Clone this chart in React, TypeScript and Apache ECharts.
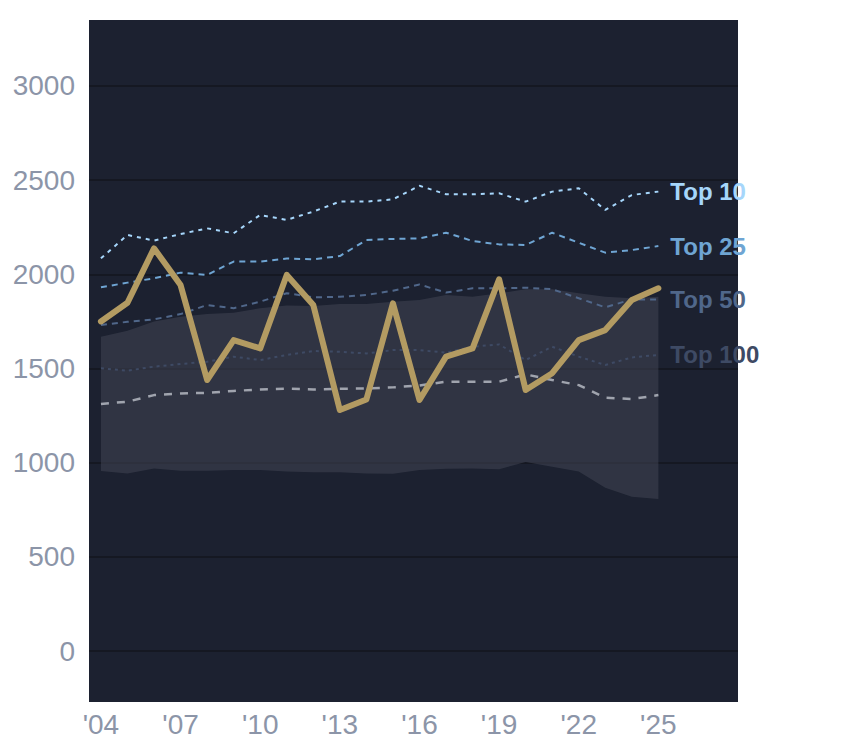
import React, { useEffect, useRef } from 'react';
import * as echarts from 'echarts';

const years = [2004, 2005, 2006, 2007, 2008, 2009, 2010, 2011, 2012, 2013, 2014, 2015, 2016, 2017, 2018, 2019, 2020, 2021, 2022, 2023, 2024, 2025];
const xTicks = [2004, 2007, 2010, 2013, 2016, 2019, 2022, 2025];
const yTicks = [0, 500, 1000, 1500, 2000, 2500, 3000];

const mainValues = [1750, 1849, 2138, 1943, 1439, 1651, 1607, 1997, 1837, 1280, 1336, 1846, 1333, 1563, 1607, 1974, 1386, 1475, 1651, 1704, 1864, 1926];
const top10 = [2085, 2209, 2179, 2214, 2244, 2218, 2315, 2289, 2333, 2386, 2386, 2398, 2470, 2425, 2425, 2430, 2386, 2439, 2457, 2342, 2421, 2439];
const top25 = [1931, 1956, 1979, 2009, 1997, 2068, 2068, 2084, 2080, 2097, 2182, 2188, 2191, 2221, 2177, 2159, 2156, 2221, 2168, 2115, 2129, 2150];
const top50 = [1731, 1748, 1761, 1789, 1837, 1820, 1855, 1900, 1878, 1881, 1890, 1913, 1946, 1903, 1926, 1926, 1929, 1921, 1873, 1825, 1867, 1867];
const top100 = [1501, 1489, 1510, 1524, 1536, 1563, 1545, 1572, 1593, 1589, 1580, 1598, 1598, 1584, 1616, 1628, 1545, 1616, 1563, 1519, 1559, 1572];
const median = [1312, 1324, 1359, 1368, 1371, 1381, 1389, 1393, 1389, 1393, 1394, 1400, 1410, 1430, 1430, 1430, 1469, 1439, 1412, 1345, 1338, 1359];
const bandLow = [956, 943, 970, 957, 957, 961, 961, 954, 950, 949, 943, 942, 961, 968, 970, 966, 1004, 979, 954, 867, 819, 807];
const bandHigh = [1669, 1701, 1749, 1775, 1789, 1796, 1820, 1834, 1832, 1842, 1842, 1855, 1864, 1890, 1881, 1899, 1921, 1921, 1899, 1881, 1873, 1881];

const tierNames = ['Top 100', 'Top 50', 'Top 25', 'Top 10'];
const tierValues = [top100, top50, top25, top10];
const tierColors = ['#3e4a64', '#50678a', '#6fa5d3', '#a6d6fb'];
const tierDash = [[3, 4], [6, 5], [6, 5], [4, 5]];

const FONT = '"Liberation Sans", Arial, sans-serif';

function pairs(vals: number[]) {
  return years.map((y, i) => [y, vals[i]]);
}

export default function App() {
  const chartRef = useRef<HTMLDivElement | null>(null);

  useEffect(() => {
    if (!chartRef.current) return;
    const inst = echarts.init(chartRef.current, undefined, { renderer: 'svg' });

    const tierSeries = tierNames.map((name, k) => ({
      name,
      type: 'line',
      data: pairs(tierValues[k]),
      showSymbol: false,
      symbol: 'none',
      lineStyle: { width: 2, color: tierColors[k], type: tierDash[k] },
      endLabel: {
        show: true,
        formatter: name,
        color: tierColors[k],
        fontFamily: FONT,
        fontWeight: 'bold',
        fontSize: 24,
        distance: 12,
      },
      z: 3,
    }));

    // band between low and high, drawn once as a polygon
    const bandData = years.map((y, i) => [y, bandLow[i], bandHigh[i]]);

    inst.setOption({
      animation: false,
      grid: {
        left: 89,
        right: 106,
        top: 20,
        bottom: 46,
        show: true,
        backgroundColor: '#1c2130',
        borderWidth: 0,
      },
      xAxis: {
        type: 'value',
        min: 2003.55,
        max: 2028,
        axisLine: { show: false },
        axisTick: { show: false, customValues: xTicks },
        splitLine: { show: false },
        axisLabel: {
          customValues: xTicks,
          formatter: (v: number) => `'${String(v).slice(2)}`,
          color: '#8c95a8',
          fontFamily: FONT,
          fontSize: 28,
          margin: 8,
        },
      },
      yAxis: {
        type: 'value',
        min: -270,
        max: 3350,
        axisLine: { show: false },
        axisTick: { show: false, customValues: yTicks },
        splitLine: { show: true, lineStyle: { color: '#151822', width: 2 } },
        axisLabel: {
          customValues: yTicks,
          formatter: (v: number) => String(v),
          color: '#8c95a8',
          fontFamily: FONT,
          fontSize: 28,
          margin: 14,
        },
      },
      series: [
        {
          name: 'band',
          type: 'custom',
          data: bandData,
          encode: { x: 0, y: [1, 2] },
          clip: true,
          renderItem: (params: any, api: any) => {
            if (params.dataIndex !== 0) return null;
            const upper = bandData.map((d) => api.coord([d[0], d[2]]));
            const lower = bandData.map((d) => api.coord([d[0], d[1]])).reverse();
            return {
              type: 'polygon',
              shape: { points: upper.concat(lower) },
              style: { fill: 'rgba(66,70,84,0.55)' },
            };
          },
          z: 1,
        },
        {
          name: 'median',
          type: 'line',
          data: pairs(median),
          symbol: 'none',
          lineStyle: { width: 2.5, color: '#a0a4ae', type: [8, 8] },
          z: 2,
        },
        ...tierSeries,
        {
          name: 'main',
          type: 'line',
          data: pairs(mainValues),
          symbol: 'none',
          lineStyle: { width: 6, color: '#b39b62', cap: 'round', join: 'round' },
          z: 4,
        },
      ],
    });

    return () => {
      inst.dispose();
    };
  }, []);

  return (
    <div
      ref={chartRef}
      style={{ position: 'fixed', left: 0, top: 0, width: 844, height: 748, background: '#ffffff' }}
    />
  );
}
